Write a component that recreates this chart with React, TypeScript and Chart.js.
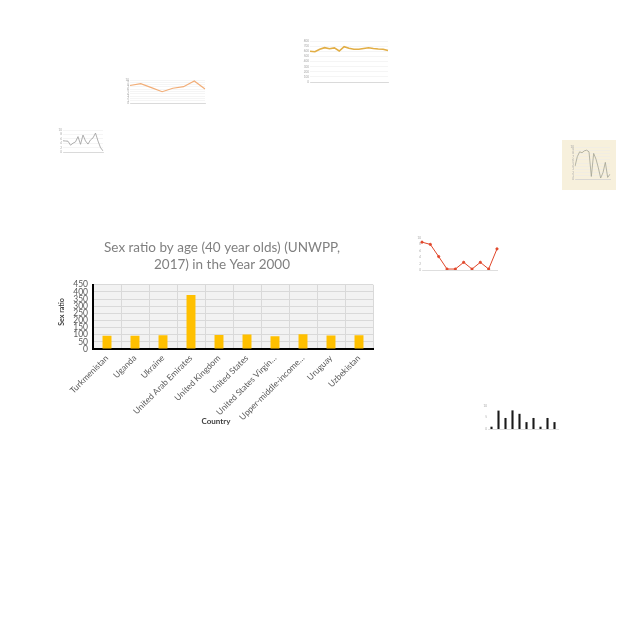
import React, { useEffect, useRef } from "react";
import { Chart, registerables } from "chart.js";
Chart.register(...registerables);

const FONT = "Lato";

// ---------- main chart data ----------
const chartTitle = ["Sex ratio by age (40 year olds) (UNWPP,", "2017) in the Year 2000"];
const countries = [
  "Turkmenistan",
  "Uganda",
  "Ukraine",
  "United Arab Emirates",
  "United Kingdom",
  "United States",
  "United States Virgin…",
  "Upper-middle-income…",
  "Uruguay",
  "Uzbekistan",
];
const sexRatio = [92, 92, 97, 378, 98, 101, 90, 103, 95, 97];
const yAxisTitle = "Sex ratio";
const xAxisTitle = "Country";
const yMin = 0;
const yMax = 450;
const yStep = 50;

// ---------- small thumbnail charts ----------
const thumbAValues = [600, 590, 640, 670, 650, 665, 605, 690, 660, 640, 640, 655, 668, 655, 645, 640, 615];
const thumbBValues = [7.6, 8.4, 6.7, 4.9, 6.4, 7.1, 9.6, 6.1];
const thumbCValues = [5.1, 5.0, 4.9, 3.1, 4.0, 4.6, 7.0, 3.5, 7.7, 5.0, 3.6, 5.5, 6.4, 8.6, 5.0, 2.0, 0.5];
const thumbDValues = [4.0, 7.0, 8.5, 8.2, 8.8, 9.0, 8.5, 0.8, 8.0, 6.2, 3.5, 0.3, 2.0, 5.2, 0.5, 1.5];
const thumbEValues = [8.7, 8.0, 4.2, 0.3, 0.3, 2.4, 0.3, 2.4, 0.3, 6.6];
const thumbFValues = [1.0, 8.0, 4.8, 8.1, 6.6, 3.0, 4.8, 1.0, 4.8, 3.0];

const plotBg = {
  id: "plotBg",
  beforeDraw(chart: any, _args: any, opts: any) {
    if (!opts || !opts.color) return;
    const { ctx, chartArea } = chart;
    ctx.save();
    ctx.fillStyle = opts.color;
    ctx.fillRect(chartArea.left, chartArea.top, chartArea.width, chartArea.height);
    ctx.restore();
  },
};

// draws the axis titles where the reference places them
const axisTitles = {
  id: "axisTitles",
  afterDraw(chart: any, _args: any, opts: any) {
    if (!opts || !opts.x) return;
    const { ctx } = chart;
    ctx.save();
    ctx.fillStyle = opts.color;
    ctx.textAlign = "center";
    ctx.textBaseline = "middle";
    ctx.font = `bold ${opts.x.size}px ${FONT}`;
    ctx.fillText(opts.x.text, opts.x.cx, opts.x.cy);
    ctx.font = `bold ${opts.y.size}px ${FONT}`;
    ctx.translate(opts.y.cx, opts.y.cy);
    ctx.rotate(-Math.PI / 2);
    ctx.fillText(opts.y.text, 0, 0);
    ctx.restore();
  },
};

type BoxProps = { left: number; top: number; width: number; height: number; bg?: string; make: () => any };

function ChartBox({ left, top, width, height, bg, make }: BoxProps) {
  const ref = useRef<HTMLCanvasElement | null>(null);
  useEffect(() => {
    if (!ref.current) return;
    const chart = new Chart(ref.current, make());
    return () => chart.destroy();
  }, []);
  return (
    <div style={{ position: "absolute", left, top, width, height, background: bg }}>
      <canvas ref={ref} width={width} height={height} style={{ display: "block", width, height }} />
    </div>
  );
}

function mainConfig() {
  return {
    type: "bar",
    data: {
      labels: countries,
      datasets: [
        {
          data: sexRatio,
          backgroundColor: "#FFC000",
          barPercentage: 0.32,
          categoryPercentage: 1,
        },
      ],
    },
    plugins: [plotBg, axisTitles],
    options: {
      responsive: false,
      animation: false,
      layout: { padding: { left: 21, right: 21, top: 0, bottom: 0 } },
      plugins: {
        legend: { display: false },
        tooltip: { enabled: false },
        plotBg: { color: "#f2f2f2" },
        axisTitles: {
          color: "#404040",
          x: { text: xAxisTitle, size: 8, cx: 166, cy: 191.5 },
          y: { text: yAxisTitle, size: 7, cx: 12, cy: 82 },
        },
        title: {
          display: true,
          text: chartTitle,
          color: "#808080",
          font: { family: FONT, size: 13.5, weight: "normal", lineHeight: 1.25 },
          padding: { top: 9, bottom: 12 },
        },
      },
      scales: {
        x: {
          grid: { color: "#d9d9d9", drawTicks: false, offset: true },
          border: { color: "#000000", width: 2 },
          ticks: {
            color: "#595959",
            font: { family: FONT, size: 8.5 },
            minRotation: 45,
            maxRotation: 45,
            autoSkip: false,
            padding: 4,
          },
          afterFit: (s: any) => {
            s.height = 86;
          },
        },
        y: {
          min: yMin,
          max: yMax,
          grid: { color: "#d9d9d9", drawTicks: false },
          border: { color: "#000000", width: 2 },
          ticks: {
            stepSize: yStep,
            autoSkip: false,
            color: "#595959",
            font: { family: FONT, size: 8.5 },
            padding: 5,
          },
          afterFit: (s: any) => {
            s.width = 22;
          },
        },
      },
    },
  };
}

function thumbConfig(
  type: string,
  values: number[],
  color: string,
  yMaxV: number,
  yStepV: number,
  yW: number,
  xH: number,
  padTop: number,
  padRight: number,
  showGrid: boolean,
  extra: any = {}
) {
  return {
    type,
    data: {
      labels: values.map(() => ""),
      datasets: [
        {
          data: values,
          borderColor: color,
          backgroundColor: color,
          borderWidth: type === "bar" ? 0 : 1.2,
          pointRadius: 0,
          tension: 0,
          ...extra,
        },
      ],
    },
    options: {
      responsive: false,
      animation: false,
      layout: { padding: { top: padTop, right: padRight, left: 0, bottom: 0 } },
      plugins: { legend: { display: false }, tooltip: { enabled: false }, title: { display: false } },
      scales: {
        x: {
          grid: { display: false },
          border: { color: "#c8c8c8", width: 0.6 },
          ticks: { display: false },
          afterFit: (s: any) => {
            s.height = xH;
          },
        },
        y: {
          min: 0,
          max: yMaxV,
          grid: { display: showGrid, color: "#ebebeb", drawTicks: false, lineWidth: 0.5 },
          border: { display: false },
          ticks: { stepSize: yStepV, autoSkip: false, color: "#a6a6a6", font: { family: FONT, size: 3 }, padding: 1 },
          afterFit: (s: any) => {
            s.width = yW;
          },
        },
      },
    },
  };
}

export default function App() {
  return (
    <div style={{ position: "absolute", left: 0, top: 0, width: 640, height: 640, background: "#ffffff", overflow: "hidden" }}>
      <ChartBox
        left={298}
        top={33}
        width={102}
        height={60}
        make={() => thumbConfig("line", thumbAValues, "#e2ae45", 800, 100, 12, 11, 8, 12, true, { borderWidth: 1.6 })}
      />
      <ChartBox
        left={115}
        top={72}
        width={95}
        height={58}
        make={() => thumbConfig("line", thumbBValues, "#f2ae78", 10, 1, 15, 27, 8, 5, true)}
      />
      <ChartBox
        left={55}
        top={124}
        width={52}
        height={32}
        make={() => thumbConfig("line", thumbCValues, "#9a9a9a", 10, 2, 8, 4, 6, 4, true, { borderWidth: 0.8 })}
      />
      <ChartBox
        left={562}
        top={140}
        width={54}
        height={50}
        bg="#f7f0dc"
        make={() => thumbConfig("line", thumbDValues, "#a3a394", 10, 1, 13, 11, 7, 6, true, { borderWidth: 0.8 })}
      />
      <ChartBox
        left={410}
        top={228}
        width={92}
        height={62}
        make={() =>
          thumbConfig("line", thumbEValues, "#e0462a", 10, 2, 12, 20, 10, 5, false, {
            pointRadius: 1.1,
            borderWidth: 1,
          })
        }
      />
      <ChartBox
        left={478}
        top={398}
        width={85}
        height={38}
        make={() =>
          thumbConfig("bar", thumbFValues, "#1a1a1a", 10, 5, 10, 7, 8, 5, false, {
            barPercentage: 0.3,
            categoryPercentage: 1,
          })
        }
      />
      <ChartBox left={50} top={230} width={344} height={205} make={mainConfig} />
    </div>
  );
}
